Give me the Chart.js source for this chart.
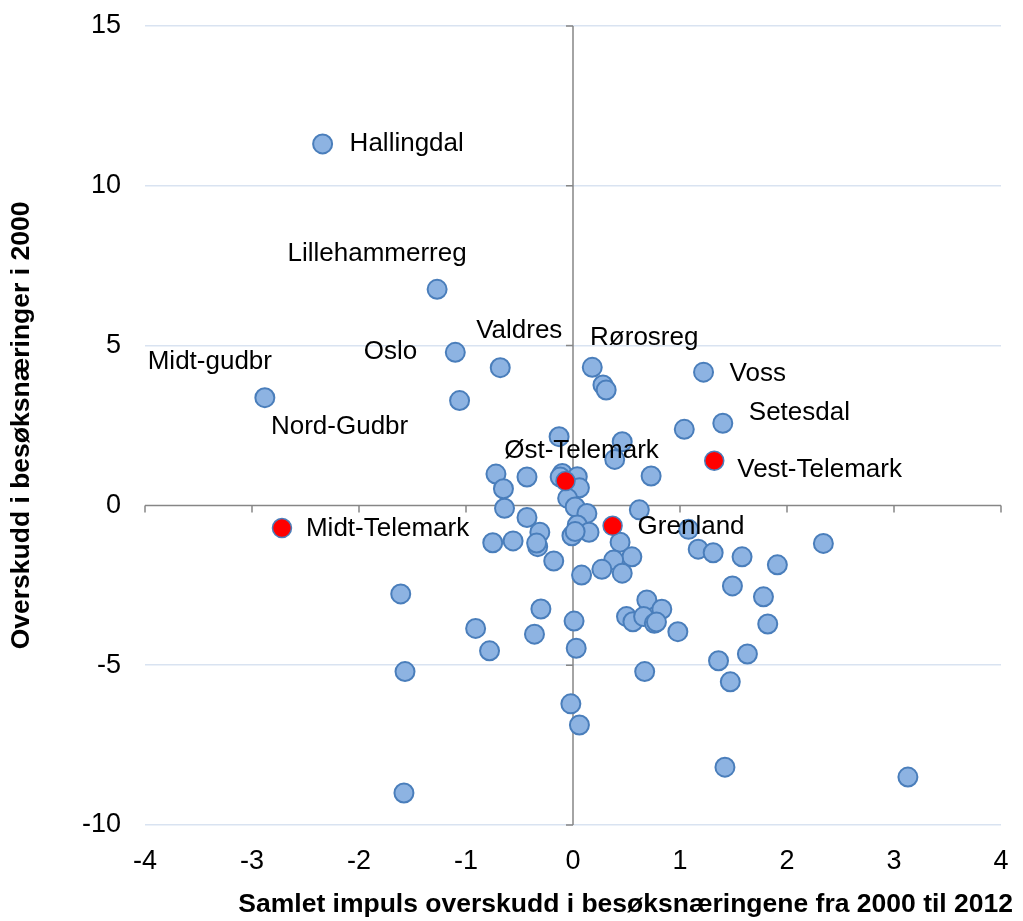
<!DOCTYPE html>
<html lang="no">

<head>
  <meta charset="UTF-8">
  <title>Overskudd i besøksnæringer</title>
  <script src="https://cdn.jsdelivr.net/npm/chart.js@4.4.1/dist/chart.umd.min.js"></script>
  <style>
    body { margin: 0; background: #fff; }
    .chart-wrap { width: 1023px; height: 921px; position: relative; }
  </style>
</head>

<body>
  <div class="chart-wrap">
    <canvas id="scatter"></canvas>
  </div>

  <script>
    // regioner (blå punkter)
    const blueX = [-2.34, -1.27, -1.10, -0.68, -2.88, -1.06, 0.18, 0.28, 0.31, 1.22,
      1.04, 1.40, -0.13, 0.46, 0.39, 0.73, -0.72, -0.43, -0.65, -0.10,
      -0.12, 0.04, 0.06, -0.05, 0.02, -0.64, 0.13, -0.43, 0.62, -0.31,
      0.04, 0.15, -0.01, 0.02, -0.75, -0.56, -0.33, -0.34, 0.44, 0.55,
      0.38, 0.27, 0.46, 0.08, -0.18, -1.61, 1.08, 1.17, 1.31, 1.58,
      1.91, 2.34, 1.49, 1.78, 1.82, 0.69, 0.83, 0.50, 0.56, 0.66,
      0.76, 0.78, 0.98, -0.30, -0.91, -0.36, -0.78, -1.57, 0.01, 0.03,
      -0.02, 0.06, 0.67, 1.63, 1.36, 1.47, -1.58, 1.42, 3.13];
    const blueY = [11.31, 6.76, 4.79, 4.31, 3.37, 3.28, 4.32, 3.77, 3.61, 4.17,
      2.38, 2.57, 2.15, 1.99, 1.44, 0.92, 0.98, 0.89, 0.52, 1.00,
      0.89, 0.90, 0.55, 0.22, -0.05, -0.09, -0.25, -0.38, -0.14, -0.84,
      -0.61, -0.84, -0.95, -0.82, -1.17, -1.11, -1.29, -1.18, -1.15, -1.61,
      -1.71, -2.00, -2.12, -2.18, -1.74, -2.77, -0.75, -1.37, -1.48, -1.61,
      -1.86, -1.19, -2.52, -2.86, -3.71, -2.96, -3.25, -3.48, -3.64, -3.48,
      -3.69, -3.65, -3.95, -3.24, -3.85, -4.03, -4.55, -5.20, -3.62, -4.47,
      -6.21, -6.87, -5.20, -4.65, -4.86, -5.52, -9.00, -8.19, -8.50];
    const blueNames = ['Hallingdal', 'Lillehammerreg', 'Oslo', 'Valdres', 'Midt-gudbr', 'Nord-Gudbr',
      'Rørosreg', '', '', 'Voss', '', 'Setesdal'];

    // Telemark-regioner (røde punkter)
    const redX = [-0.07, 1.32, 0.37, -2.72];
    const redY = [0.76, 1.40, -0.64, -0.71];
    const redNames = ['Øst-Telemark', 'Vest-Telemark', 'Grenland', 'Midt-Telemark'];

    const xTicks = [-4, -3, -2, -1, 0, 1, 2, 3, 4];
    const yTicks = [-10, -5, 0, 5, 10, 15];

    const xTitle = 'Samlet impuls overskudd i besøksnæringene fra 2000 til 2012';
    const yTitle = 'Overskudd i besøksnæringer i 2000';

    // plassering av etikettene: [dx, dy, align]
    const labelPos = {
      'Hallingdal': [27, 0, 'left'],
      'Lillehammerreg': [-60, -36, 'center'],
      'Oslo': [-38, 0, 'right'],
      'Valdres': [19, -37, 'center'],
      'Midt-gudbr': [-55, -36, 'center'],
      'Nord-Gudbr': [-120, 26, 'center'],
      'Rørosreg': [52, -30, 'center'],
      'Voss': [26, 2, 'left'],
      'Setesdal': [26, -10, 'left'],
      'Øst-Telemark': [16, -30, 'center'],
      'Vest-Telemark': [23, 9, 'left'],
      'Grenland': [25, 1, 'left'],
      'Midt-Telemark': [24, 1, 'left']
    };

    const toPoints = (xs, ys) => xs.map((x, i) => ({ x: x, y: ys[i] }));

    // aksene krysser i null, med små streker
    const zeroAxes = {
      id: 'zeroAxes',
      beforeDatasetsDraw(chart) {
        const { ctx, chartArea, scales } = chart;
        const x0 = scales.x.getPixelForValue(0);
        const y0 = scales.y.getPixelForValue(0);
        ctx.save();
        ctx.strokeStyle = '#868686';
        ctx.lineWidth = 1.5;
        ctx.beginPath();
        ctx.moveTo(chartArea.left, y0);
        ctx.lineTo(chartArea.right, y0);
        ctx.moveTo(x0, chartArea.top);
        ctx.lineTo(x0, chartArea.bottom);
        xTicks.forEach(v => {
          const px = scales.x.getPixelForValue(v);
          ctx.moveTo(px, y0);
          ctx.lineTo(px, y0 + 7);
        });
        yTicks.forEach(v => {
          const py = scales.y.getPixelForValue(v);
          ctx.moveTo(x0 - 7, py);
          ctx.lineTo(x0, py);
        });
        ctx.stroke();
        ctx.restore();
      }
    };

    const pointLabels = {
      id: 'pointLabels',
      afterDatasetsDraw(chart) {
        const { ctx } = chart;
        ctx.save();
        ctx.font = '26px "Liberation Sans", Arial, sans-serif';
        ctx.fillStyle = '#000';
        ctx.textBaseline = 'middle';
        chart.data.datasets.forEach((ds, di) => {
          const meta = chart.getDatasetMeta(di);
          ds.names.forEach((name, i) => {
            if (!name) return;
            const el = meta.data[i];
            const p = labelPos[name] || [14, 0, 'left'];
            ctx.textAlign = p[2];
            ctx.fillText(name, el.x + p[0], el.y + p[1]);
          });
        });
        ctx.restore();
      }
    };

    // x-aksetittel, høyrestilt litt forbi plottet slik som i originalen
    const xAxisTitle = {
      id: 'xAxisTitle',
      afterDraw(chart) {
        const { ctx, chartArea } = chart;
        ctx.save();
        ctx.font = 'bold 26.5px "Liberation Sans", Arial, sans-serif';
        ctx.fillStyle = '#000';
        ctx.textAlign = 'right';
        ctx.textBaseline = 'middle';
        ctx.fillText(xTitle, chartArea.right + 12, chart.height - 16);
        ctx.restore();
      }
    };

    const tickFont = { family: '"Liberation Sans", Arial, sans-serif', size: 27 };
    const titleFont = { family: '"Liberation Sans", Arial, sans-serif', size: 26.5, weight: 'bold' };

    new Chart(document.getElementById('scatter'), {
      type: 'scatter',
      data: {
        datasets: [
          {
            label: 'Telemark',
            data: toPoints(redX, redY),
            names: redNames,
            backgroundColor: '#ff0000',
            borderColor: '#4a7ebb',
            borderWidth: 1.5,
            pointRadius: 9.5,
            pointHoverRadius: 9.5,
            order: 0
          },
          {
            label: 'Regioner',
            data: toPoints(blueX, blueY),
            names: blueNames,
            backgroundColor: '#8db3e2',
            borderColor: '#4a7ebb',
            borderWidth: 2,
            pointRadius: 9.5,
            pointHoverRadius: 9.5,
            order: 1
          }
        ]
      },
      options: {
        responsive: true,
        maintainAspectRatio: false,
        animation: false,
        layout: { padding: { left: 2, right: 22, top: 26, bottom: 0 } },
        plugins: {
          legend: { display: false },
          tooltip: { enabled: false }
        },
        scales: {
          x: {
            type: 'linear',
            min: -4,
            max: 4,
            afterBuildTicks: s => { s.ticks = xTicks.map(v => ({ value: v })); },
            ticks: { font: tickFont, color: '#000', padding: 12 },
            grid: { display: false },
            border: { display: false },
            title: { display: false },
            afterFit: s => { s.height = 96; }
          },
          y: {
            type: 'linear',
            min: -10,
            max: 15,
            afterBuildTicks: s => { s.ticks = yTicks.map(v => ({ value: v })); },
            ticks: { font: tickFont, color: '#000', padding: 0 },
            grid: {
              color: c => (c.tick && c.tick.value === 0 ? 'rgba(0,0,0,0)' : '#d9e3f1'),
              lineWidth: 1.5,
              drawTicks: true,
              tickLength: 24,
              tickColor: 'rgba(0,0,0,0)'
            },
            border: { display: false },
            title: { display: true, text: yTitle, font: titleFont, color: '#000', padding: { top: 4, bottom: 4 } },
            afterFit: s => { s.width = 143; }
          }
        }
      },
      plugins: [zeroAxes, pointLabels, xAxisTitle]
    });
  </script>
</body>

</html>
